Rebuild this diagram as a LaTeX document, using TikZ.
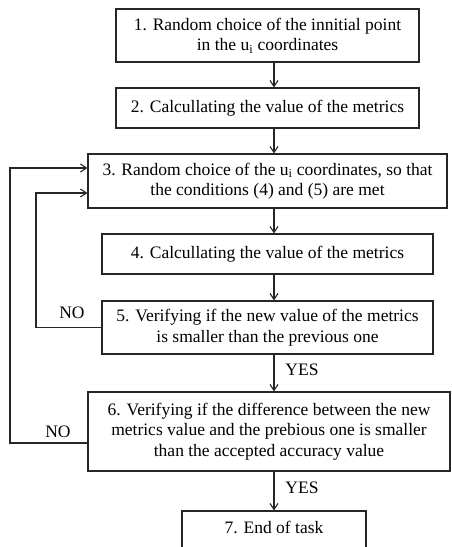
\documentclass[tikz,border=0pt]{standalone}
\usepackage{fontspec}
\setmainfont{Liberation Serif}
\usetikzlibrary{arrows.meta}
\begin{document}
\begin{tikzpicture}[x=1pt,y=-1pt,
  stepbox/.style={draw=black!85,line width=1.2pt,rectangle,inner sep=0pt,
    align=center,font=\fontsize{17.5}{20.5}\selectfont},
  arr/.style={draw=black!85,line width=1.2pt,-{Straight Barb[length=6pt,width=8pt,line width=1.1pt]}},
  lbl/.style={font=\fontsize{17.5}{20.5}\selectfont,inner sep=0pt}]
\clip (0,0) rectangle (451,547);
\fill[white] (0,0) rectangle (451,547);
\node[stepbox,minimum width=303pt,minimum height=53pt] (b1) at (267.5,35.5)
  {1. Random choice of the innitial point\\in the u\textsubscript{i} coordinates};
\node[stepbox,minimum width=303pt,minimum height=40pt] (b2) at (267.5,108)
  {2. Calcullating the value of the metrics};
\node[stepbox,minimum width=359pt,minimum height=54pt] (b3) at (267.5,181)
  {3. Random choice of the u\textsubscript{i} coordinates, so that\\the conditions (4) and (5) are met};
\node[stepbox,minimum width=331pt,minimum height=40pt] (b4) at (267.5,254)
  {4. Calcullating the value of the metrics};
\node[stepbox,minimum width=331pt,minimum height=53pt] (b5) at (267.5,327.5)
  {5. Verifying if the new value of the metrics\\is smaller than the previous one};
\node[stepbox,minimum width=362pt,minimum height=79pt] (b6) at (269,431.5)
  {6. Verifying if the difference between the new\\metrics value and the prebious one is smaller\\than the accepted accuracy value};
\node[stepbox,minimum width=184pt,minimum height=60pt,text depth=0pt] (b7) at (274,541) {};
\node[lbl] (t7) at (274,527) {7. End of task};
\coordinate (ax) at (274,0);
\draw[arr] (b1.south -| ax) -- (b2.north -| ax);
\draw[arr] (b2.south -| ax) -- (b3.north -| ax);
\draw[arr] (b3.south -| ax) -- (b4.north -| ax);
\draw[arr] (b4.south -| ax) -- (b5.north -| ax);
\draw[arr] (b5.south -| ax) -- (b6.north -| ax);
\draw[arr] (b6.south -| ax) -- (b7.north -| ax);
\coordinate (in1) at (36,327.5);
\coordinate (in2) at (36,193);
\coordinate (out1) at (10,443);
\coordinate (out2) at (10,168);
\draw[arr] (b5.west) -- (in1) -- (in2) -- (in2 -| b3.west);
\draw[arr] (out1 -| b6.west) -- (out1) -- (out2) -- (out2 -| b3.west);
\node[lbl] (no1) at (72,313) {NO};
\node[lbl] (no2) at (58,432) {NO};
\node[lbl] (yes1) at (302,370) {YES};
\node[lbl] (yes2) at (302,488) {YES};
\end{tikzpicture}
\end{document}
